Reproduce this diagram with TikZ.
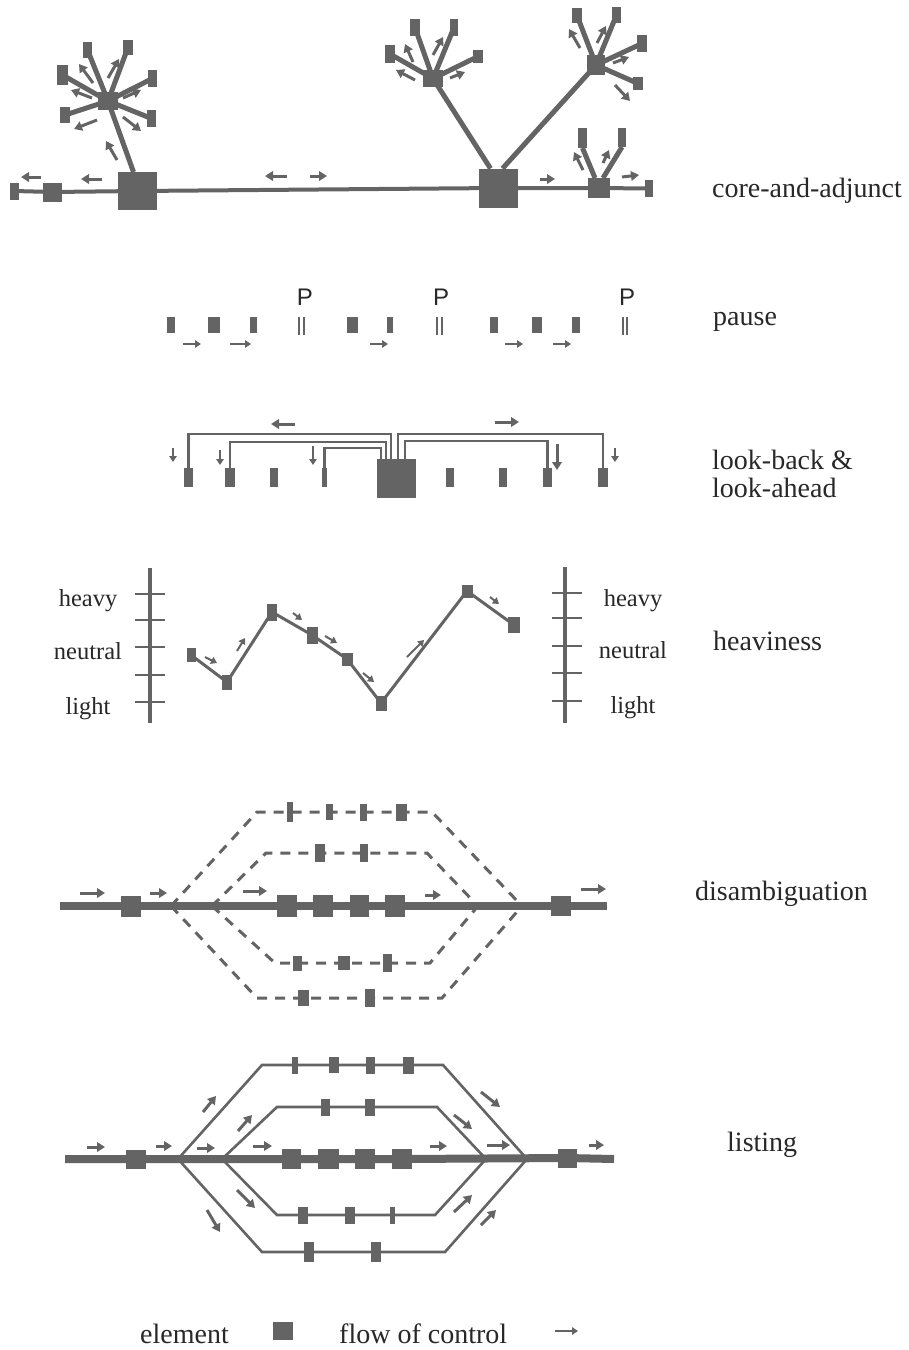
\documentclass[tikz,border=0pt]{standalone}
\usepackage{fontspec}
\setmainfont{Liberation Serif}
\newfontfamily\pfont{Liberation Sans}
\usetikzlibrary{arrows.meta,backgrounds,calc}
\definecolor{el}{RGB}{100,100,100}
\definecolor{txt}{RGB}{40,40,40}
\tikzset{
 elem/.style={fill=el,draw=none,inner sep=0pt,outer sep=0pt},
 flow/.style={draw=el,line width=3pt,-{Triangle[length=8pt,width=9.5pt]}},
 flowsm/.style={draw=el,line width=2pt,-{Triangle[length=6pt,width=7.5pt]}},
 lbl/.style={text=txt,font=\fontsize{28}{32}\selectfont,anchor=base west,inner sep=0pt},
 hlbl/.style={text=txt,font=\fontsize{24.5}{28}\selectfont,anchor=base,inner sep=0pt},
 plbl/.style={text=txt,font=\pfont\fontsize{24}{28}\selectfont,anchor=base,inner sep=0pt},
 trunk/.style={draw=el,line width=4pt},
 spoke/.style={draw=el,line width=5pt},
 bracket/.style={draw=el,line width=2.2pt},
 scaleline/.style={draw=el,line width=3.5pt},
 tickline/.style={draw=el,line width=2pt},
 hline/.style={draw=el,line width=3pt},
 mainline/.style={draw=el,line width=8pt},
 branch/.style={draw=el,line width=2.6pt},
 dbranch/.style={draw=el,line width=3pt,dash pattern=on 10pt off 8pt},
 pbar/.style={draw=el,line width=2pt}
}
\newcommand\elm[5]{\node[elem,minimum width=#4pt,minimum height=#5pt] (#1) at (#2,#3) {};}
\begin{document}
\begin{tikzpicture}[x=1pt,y=-1pt]
\path[use as bounding box] (0,0) rectangle (909,1350);

%% ---------------- core-and-adjunct ----------------
\elm{c1}{14.5}{191}{9}{17}
\elm{c2}{52.5}{192}{19}{19}
\elm{c3}{137.5}{191}{39}{38}
\elm{hA}{108}{101}{20}{18}
\elm{sA1}{87.5}{50}{9}{16}
\elm{sA2}{128}{47.5}{10}{15}
\elm{sA3}{62.5}{75}{11}{20}
\elm{sA4}{152.5}{78.5}{9}{17}
\elm{sA5}{65}{115}{10}{16}
\elm{sA6}{151.5}{118.5}{9}{17}
\elm{c4}{498.5}{188}{39}{39}
\elm{hB}{433}{78.5}{20}{17}
\elm{sB1}{390}{54}{10}{18}
\elm{sB2}{415}{27.5}{10}{17}
\elm{sB3}{454}{27.5}{8}{17}
\elm{sB4}{478}{56.5}{10}{13}
\elm{hC}{596}{65}{18}{20}
\elm{sC1}{577}{15.5}{10}{15}
\elm{sC2}{616.5}{15}{9}{16}
\elm{sC3}{642}{43.5}{10}{17}
\elm{sC4}{638}{83.5}{10}{13}
\elm{c5}{599}{188}{22}{20}
\elm{sD1}{582.5}{138}{9}{20}
\elm{sD2}{622}{137.5}{8}{19}
\elm{c6}{649}{188.5}{8}{17}

\node[lbl] (tcore) at (712,197) {core-and-adjunct};

%% ---------------- pause ----------------
\elm{p1}{171}{325}{8}{16}
\elm{p2}{214}{325}{12}{16}
\elm{p3}{253.5}{325}{7}{16}
\elm{p4}{352.5}{325}{11}{16}
\elm{p5}{390}{325}{6}{16}
\elm{p6}{494}{325}{8}{16}
\elm{p7}{537}{325}{10}{16}
\elm{p8}{576}{325}{8}{16}
\node[plbl] (P1) at (305,305) {P};
\node[plbl] (P2) at (441,305) {P};
\node[plbl] (P3) at (627,305) {P};
\node[lbl] (tpause) at (713,325) {pause};

%% ---------------- look-back & look-ahead ----------------
\elm{L0}{396.5}{478.5}{39}{39}
\elm{l1}{188.5}{477.5}{9}{19}
\elm{l2}{230}{477.5}{10}{19}
\elm{l3}{274}{477.5}{8}{19}
\elm{l4}{324.5}{477.5}{5}{19}
\elm{l5}{450}{477.5}{8}{19}
\elm{l6}{503}{477.5}{8}{19}
\elm{l7}{547.5}{477.5}{9}{19}
\elm{l8}{603}{477.5}{10}{19}
\node[lbl] (tlook1) at (712,469) {look-back \&};
\node[lbl] (tlook2) at (712,497) {look-ahead};

%% ---------------- heaviness ----------------
\elm{h1}{191}{655}{9}{14}
\elm{h2}{227}{682}{10}{15}
\elm{h3}{272}{612}{10}{17}
\elm{h4}{312}{635}{11}{17}
\elm{h5}{347}{659}{11}{13}
\elm{h6}{381}{703}{11}{15}
\elm{h7}{467}{591}{11}{13}
\elm{h8}{514}{625}{12}{16}
\node[hlbl] (lh1) at (88,606) {heavy};
\node[hlbl] (ln1) at (88,659) {neutral};
\node[hlbl] (ll1) at (88,714) {light};
\node[hlbl] (lh2) at (633,606) {heavy};
\node[hlbl] (ln2) at (633,658) {neutral};
\node[hlbl] (ll2) at (633,713) {light};
\node[lbl] (theavy) at (713,650) {heaviness};

%% ---------------- disambiguation ----------------
\coordinate (dL) at (60,906);
\coordinate (dR) at (607,906);
\coordinate (dAo) at (171,906);
\coordinate (dAi) at (212,906);
\coordinate (dBi) at (478,906);
\coordinate (dBo) at (522,906);
\coordinate (uo1) at (257,812);
\coordinate (uo2) at (432,812);
\coordinate (ui1) at (266,853);
\coordinate (ui2) at (427,853);
\coordinate (li1) at (275,963);
\coordinate (li2) at (430,963);
\coordinate (lo1) at (257,998);
\coordinate (lo2) at (442,998);
\elm{d0}{131}{906}{20}{21}
\elm{d1}{287}{906}{20}{22}
\elm{d2}{323}{906}{20}{22}
\elm{d3}{359}{906}{19}{22}
\elm{d4}{395}{906}{20}{22}
\elm{d5}{561}{906}{20}{20}
\elm{duo1}{290}{812}{6}{20}
\elm{duo2}{329.5}{812}{7}{16}
\elm{duo3}{363.5}{812}{7}{17}
\elm{duo4}{401.5}{812}{11}{17}
\elm{dui1}{320}{853}{10}{18}
\elm{dui2}{364}{853}{8}{18}
\elm{dli1}{297.5}{963}{9}{15}
\elm{dli2}{344}{963}{12}{14}
\elm{dli3}{387.5}{963}{9}{18}
\elm{dlo1}{303.5}{998}{11}{16}
\elm{dlo2}{370}{998}{10}{18}
\node[lbl] (tdis) at (695,900) {disambiguation};

%% ---------------- listing ----------------
\coordinate (gL) at (65,1159);
\coordinate (gR) at (614,1159);
\coordinate (gAo) at (178,1159);
\coordinate (gAi) at (222,1159);
\coordinate (gBi) at (486,1159);
\coordinate (gBo) at (527,1159);
\coordinate (guo1) at (262,1065);
\coordinate (guo2) at (443,1065);
\coordinate (gui1) at (277,1107);
\coordinate (gui2) at (437,1107);
\coordinate (gli1) at (277,1215);
\coordinate (gli2) at (435,1215);
\coordinate (glo1) at (262,1252);
\coordinate (glo2) at (445,1252);
\elm{g0}{136}{1159}{20}{19}
\elm{g1}{291}{1159}{19}{20}
\elm{g2}{328}{1159}{21}{20}
\elm{g3}{365}{1159}{20}{20}
\elm{g4}{402}{1159}{20}{20}
\elm{g5}{567.5}{1158}{19}{19}
\elm{guo3}{295}{1065}{6}{17}
\elm{guo4}{334}{1065}{10}{16}
\elm{guo5}{370.5}{1065}{9}{17}
\elm{guo6}{408.5}{1065}{11}{17}
\elm{gui3}{325}{1107}{9}{17}
\elm{gui4}{369.5}{1107}{10}{17}
\elm{gli3}{303}{1215}{10}{17}
\elm{gli4}{350}{1215}{10}{17}
\elm{gli5}{392.5}{1215}{5}{17}
\elm{glo3}{309}{1252}{10}{20}
\elm{glo4}{376}{1252}{10}{20}
\node[lbl] (tlist) at (727,1151) {listing};

%% ---------------- legend ----------------
\node[lbl] (legel) at (140,1343) {element};
\elm{legbox}{283}{1331}{20}{18}
\node[lbl] (legfl) at (339,1343) {flow of control};
\coordinate (legA) at (555,1331);
\coordinate (legB) at (578,1331);
\draw[flowsm] (legA) -- (legB);

%% ================= connectors (behind elements) =================
\begin{pgfonlayer}{background}
\fill[white] (0,0) rectangle (909,1350);
% core trunk
\draw[trunk] (c1.center) -- (c2.center) -- (c3.center) -- (c4.center) -- (c5.center) -- (c6.center);
% stems
\draw[spoke] ([xshift=-4pt]c3.north) -- (hA.center);
\draw[spoke] ([xshift=-8pt]c4.north) -- (hB.center);
\draw[spoke] ([xshift=4pt]c4.north) -- (hC.center);
\draw[spoke] ([xshift=-4pt]c5.north) -- (sD1.south);
\draw[spoke] ([xshift=4pt]c5.north) -- (sD2.south);
% spokes
\foreach \s in {sA1,sA2,sA3,sA4,sA5,sA6} \draw[spoke] (hA.center) -- (\s.center);
\foreach \s in {sB1,sB2,sB3,sB4} \draw[spoke] (hB.center) -- (\s.center);
\foreach \s in {sC1,sC2,sC3,sC4} \draw[spoke] (hC.center) -- (\s.center);

% look-back brackets
\draw[bracket] (l1.north) |- ([xshift=-5.5pt]L0.north |- 0,434) -- ([xshift=-5.5pt]L0.north);
\draw[bracket] (l2.north) |- ([xshift=-10.5pt]L0.north |- 0,442) -- ([xshift=-10.5pt]L0.north);
\draw[bracket] (l4.north) |- ([xshift=-15.5pt]L0.north |- 0,448) -- ([xshift=-15.5pt]L0.north);
\draw[bracket] (l8.north) |- ([xshift=1.5pt]L0.north |- 0,434) -- ([xshift=1.5pt]L0.north);
\draw[bracket] (l7.north) |- ([xshift=8.5pt]L0.north |- 0,441) -- ([xshift=8.5pt]L0.north);

% heaviness scales and line
\draw[scaleline] (150,568) -- (150,723);
\foreach \y in {594,620,647,675,702} \draw[tickline] (135,\y) -- (165,\y);
\draw[scaleline] (565,567) -- (565,723);
\foreach \y in {593,618,646,673,701} \draw[tickline] (552,\y) -- (582,\y);
\draw[hline] (h1.center) -- (h2.center) -- (h3.center) -- (h4.center) -- (h5.center) -- (h6.center) -- (h7.center) -- (h8.center);

% pause bars
\foreach \x in {299,304,437,442,623,627} \draw[pbar] (\x,317) -- (\x,335);

% disambiguation
\draw[mainline] (dL) -- (d0.center) -- (d1.center) -- (d2.center) -- (d3.center) -- (d4.center) -- (d5.center) -- (dR);
\draw[dbranch] (dAo) -- (uo1) -- (duo1.center) -- (duo2.center) -- (duo3.center) -- (duo4.center) -- (uo2) -- (dBo);
\draw[dbranch] (dAi) -- (ui1) -- (dui1.center) -- (dui2.center) -- (ui2) -- (dBi);
\draw[dbranch] (dAi) -- (li1) -- (dli1.center) -- (dli2.center) -- (dli3.center) -- (li2) -- (dBi);
\draw[dbranch] (dAo) -- (lo1) -- (dlo1.center) -- (dlo2.center) -- (lo2) -- (dBo);

% listing
\draw[mainline] (gL) -- (g0.center) -- (g1.center) -- (g2.center) -- (g3.center) -- (g4.center) -- (g5.center) -- (gR);
\draw[branch] (gAo) -- (guo1) -- (guo3.center) -- (guo4.center) -- (guo5.center) -- (guo6.center) -- (guo2) -- (gBo);
\draw[branch] (gAi) -- (gui1) -- (gui3.center) -- (gui4.center) -- (gui2) -- (gBi);
\draw[branch] (gAi) -- (gli1) -- (gli3.center) -- (gli4.center) -- (gli5.center) -- (gli2) -- (gBi);
\draw[branch] (gAo) -- (glo1) -- (glo3.center) -- (glo4.center) -- (glo2) -- (gBo);
\end{pgfonlayer}

%% ================= flow-of-control arrows =================
% core
\draw[flow] (41,177) -- (21,177);
\draw[flow] (102,179) -- (81,179);
\draw[flow] (287,176) -- (265,176);
\draw[flow] (310,176) -- (327,176);
\draw[flow] (540,179) -- (555,179);
\draw[flow] (622,177) -- (639,175);
\draw[flow] (93,83) -- (79,64);
\draw[flow] (108,78) -- (119,59);
\draw[flow] (92,98) -- (71,90);
\draw[flow] (123,98) -- (141,90);
\draw[flow] (97,120) -- (74,129);
\draw[flow] (123,117) -- (141,131);
\draw[flow] (117,160) -- (106,141);
\draw[flow] (413,62) -- (405,44);
\draw[flow] (433,55) -- (443,37);
\draw[flow] (415,80) -- (396,70);
\draw[flow] (450,78) -- (465,72);
\draw[flow] (580,48) -- (569,29);
\draw[flow] (597,43) -- (606,26);
\draw[flow] (613,63) -- (629,57);
\draw[flow] (615,85) -- (630,101);
\draw[flow] (583,170) -- (574,152);
\draw[flow] (603,163) -- (609,150);
% pause
\foreach \a/\b in {183/201,230/251,370/388,505/523,553/571} \draw[flowsm] (\a,344) -- (\b,344);
% look-back / look-ahead
\draw[flowsm] (173,448) -- (173,462);
\draw[flowsm] (220,450) -- (220,465);
\draw[flowsm] (313,446) -- (313,465);
\draw[flow] (557,444) -- (557,470);
\draw[flowsm] (615,448) -- (615,462);
\draw[flow] (295,424) -- (271,424);
\draw[flow] (495,422) -- (519,422);
% heaviness
\draw[flowsm] (205,657) -- (217,663);
\draw[flowsm] (237,651) -- (245,638);
\draw[flowsm] (293,613) -- (302,620);
\draw[flowsm] (325,636) -- (337,643);
\draw[flowsm] (363,673) -- (374,682);
\draw[flowsm] (407,657) -- (424,640);
\draw[flowsm] (490,597) -- (499,604);
% disambiguation
\draw[flow] (80,893) -- (105,893);
\draw[flow] (150,893) -- (167,893);
\draw[flow] (243,891) -- (267,891);
\draw[flow] (425,895) -- (441,895);
\draw[flow] (581,889) -- (606,889);
% listing
\draw[flow] (87,1147) -- (105,1147);
\draw[flow] (156,1146) -- (172,1146);
\draw[flow] (197,1148) -- (215,1148);
\draw[flow] (253,1146) -- (272,1146);
\draw[flow] (430,1146) -- (447,1146);
\draw[flow] (487,1145) -- (510,1145);
\draw[flow] (589,1145) -- (604,1145);
\draw[flow] (203,1112) -- (216,1096);
\draw[flow] (238,1131) -- (252,1115);
\draw[flow] (237,1190) -- (255,1208);
\draw[flow] (207,1210) -- (220,1232);
\draw[flow] (481,1092) -- (500,1107);
\draw[flow] (454,1115) -- (472,1129);
\draw[flow] (454,1212) -- (472,1195);
\draw[flow] (481,1225) -- (496,1210);
\end{tikzpicture}
\end{document}
